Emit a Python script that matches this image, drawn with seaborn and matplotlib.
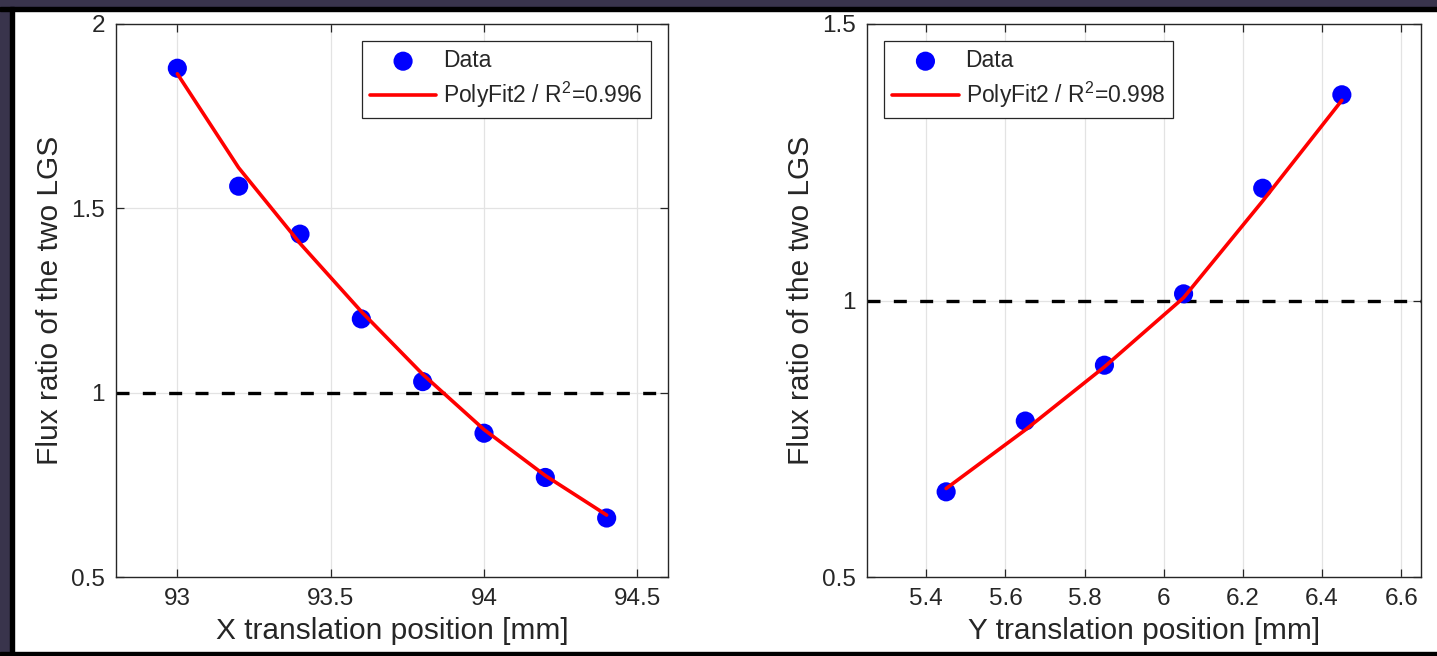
import matplotlib
matplotlib.use("Agg")
import matplotlib.pyplot as plt
import seaborn as sns
import pandas as pd
from matplotlib.patches import Rectangle

# ---- data ----
x_pos = [93.0, 93.2, 93.4, 93.6, 93.8, 94.0, 94.2, 94.4]
x_ratio = [1.88, 1.56, 1.43, 1.20, 1.03, 0.89, 0.77, 0.66]
x_fit = [1.865, 1.610, 1.405, 1.220, 1.050, 0.900, 0.775, 0.668]

y_pos = [5.45, 5.65, 5.85, 6.05, 6.25, 6.45]
y_ratio = [0.654, 0.782, 0.883, 1.012, 1.203, 1.372]
y_fit = [0.660, 0.766, 0.880, 1.005, 1.180, 1.362]

x_ticks = [93, 93.5, 94, 94.5]
x_ticklabels = ["93", "93.5", "94", "94.5"]
y_ticks = [5.4, 5.6, 5.8, 6.0, 6.2, 6.4, 6.6]
y_ticklabels = ["5.4", "5.6", "5.8", "6", "6.2", "6.4", "6.6"]
left_yticks = [0.5, 1, 1.5, 2]
left_yticklabels = ["0.5", "1", "1.5", "2"]
right_yticks = [0.5, 1, 1.5]
right_yticklabels = ["0.5", "1", "1.5"]

legend_data = "Data"
legend_fit_x = "PolyFit2 / R$^2$=0.996"
legend_fit_y = "PolyFit2 / R$^2$=0.998"
ylabel = "Flux ratio of the two LGS"
xlabel_x = "X translation position [mm]"
xlabel_y = "Y translation position [mm]"

sns.set_theme(style="whitegrid")
plt.rcParams['font.family'] = ['Liberation Sans', 'DejaVu Sans']
plt.rcParams['mathtext.fontset'] = 'custom'
plt.rcParams['mathtext.rm'] = 'Liberation Sans'

fig = plt.figure(figsize=(14.37, 6.56), dpi=100, facecolor="white")
W, H = 1437, 656

def px_axes(l, t, r, b):
    return fig.add_axes([l / W, 1 - b / H, (r - l) / W, (b - t) / H])

ax1 = px_axes(116, 24, 668, 577)
ax2 = px_axes(867, 24, 1421, 577)

df1 = pd.DataFrame({"pos": x_pos, "ratio": x_ratio, "fit": x_fit})
df2 = pd.DataFrame({"pos": y_pos, "ratio": y_ratio, "fit": y_fit})

def draw(ax, df, fitlabel, xlim, ylim, xt, xtl, yt, ytl, xlabel, legloc):
    ax.axhline(1.0, color="black", linestyle=(0, (3.9, 4.0)), linewidth=2.4, zorder=2)
    sns.scatterplot(data=df, x="pos", y="ratio", ax=ax, color="#0000ff", s=190,
                    edgecolor="none", label=legend_data, zorder=3)
    sns.lineplot(data=df, x="pos", y="fit", ax=ax, color="#ff0000", linewidth=2.6,
                 label=fitlabel, zorder=4)
    ax.set_xlim(*xlim)
    ax.set_ylim(*ylim)
    ax.set_xticks(xt)
    ax.set_xticklabels(xtl)
    ax.set_yticks(yt)
    ax.set_yticklabels(ytl)
    ax.set_xlabel(xlabel, fontsize=21.5, color="#262626", labelpad=5)
    ax.set_ylabel(ylabel, fontsize=21.5, color="#262626", labelpad=5)
    ax.set_facecolor("white")
    ax.grid(True, color="#e3e3e3", linewidth=0.9)
    for sp in ax.spines.values():
        sp.set_visible(True)
        sp.set_color("#262626")
        sp.set_linewidth(1.0)
    ax.tick_params(axis="both", which="major", direction="in", length=6, width=0.9,
                   color="#262626", labelsize=17.5, labelcolor="#262626",
                   top=True, right=True, bottom=True, left=True, pad=8)
    leg = ax.legend(loc=legloc, fontsize=16.5, frameon=True, fancybox=False,
                    edgecolor="#262626", framealpha=1, borderpad=0.35,
                    handlelength=2.9, handletextpad=0.3, labelspacing=0.35,
                    borderaxespad=0.75)
    leg.get_frame().set_linewidth(0.9)
    for h in leg.legend_handles:
        try:
            h.set_sizes([190])
        except Exception:
            pass

draw(ax1, df1, legend_fit_x, (92.8, 94.6), (0.5, 2.0), x_ticks, x_ticklabels,
     left_yticks, left_yticklabels, xlabel_x, "upper right")
draw(ax2, df2, legend_fit_y, (5.25, 6.65), (0.5, 1.5), y_ticks, y_ticklabels,
     right_yticks, right_yticklabels, xlabel_y, "upper left")

# screenshot frame
purple = "#39344c"
fig.patches.append(Rectangle((0, 1 - 7 / H), 1, 7 / H, transform=fig.transFigure,
                             color=purple, zorder=-1))
fig.patches.append(Rectangle((0, 0), 10 / W, 1, transform=fig.transFigure,
                             color=purple, zorder=-1))
fig.patches.append(Rectangle((0, 1 - 11 / H), 1, 4 / H, transform=fig.transFigure,
                             color="black", zorder=-1))
fig.patches.append(Rectangle((10 / W, 0), 4 / W, 1 - 7 / H, transform=fig.transFigure,
                             color="black", zorder=-1))
fig.patches.append(Rectangle((0, 0), 1, 4 / H, transform=fig.transFigure,
                             color="black", zorder=-1))

fig.savefig("out.png", dpi=100, facecolor="white")
